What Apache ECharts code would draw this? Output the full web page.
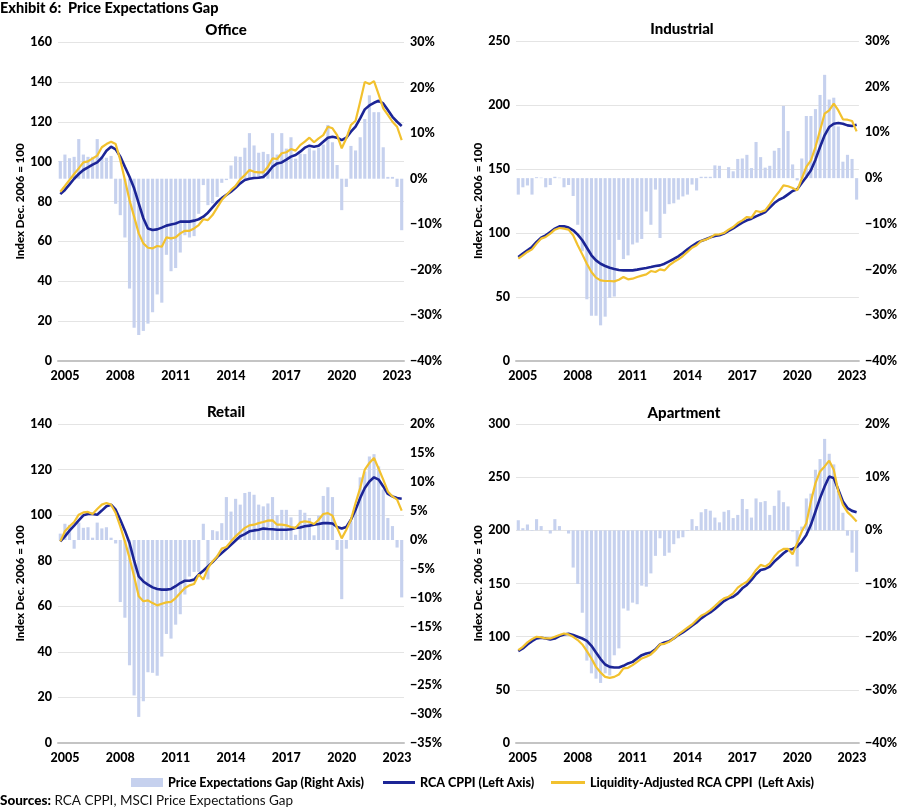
<!DOCTYPE html>
<html><head><meta charset="utf-8">
<script src="https://cdn.jsdelivr.net/npm/echarts/dist/echarts.min.js"></script>
<style>html,body{margin:0;padding:0;background:#fff}#c{width:900px;height:809px}</style>
</head><body><div id="c"></div>
<script>
// ---------- DATA (quarterly, 2004 Q4 .. 2023 Q2) ----------
const yearTicks = ['2005','2008','2011','2014','2017','2020','2023'];
const quarters = [];
for (let y = 2004; y <= 2023; y++) for (let q = 1; q <= 4; q++) {
  if ((y === 2004 && q < 4) || (y === 2023 && q > 2)) continue;
  quarters.push(y + ' Q' + q);
}

const officeGap = [3.9,5.3,4.5,4.8,8.7,5.3,4.8,4.8,8.7,4.8,4.6,5.0,
  -5.5,-8.0,-12.9,-24.1,-32.7,-34.3,-33.4,-31.8,-29.3,-25.4,-27.2,
  -16.7,-20.3,-19.6,-16.2,-12.4,-12.9,-12.6,-7.7,-1.4,-5.8,-5.4,-4.0,-0.9,-0.3,
  2.9,4.9,4.8,6.8,10.0,7.3,5.7,5.9,5.4,10.0,5.3,10.0,6.6,9.1,4.4,5.5,5.4,6.7,
  6.2,6.8,7.5,11.8,8.0,3.0,
  -6.9,-1.8,7.2,6.2,9.1,13.1,18.3,14.6,14.6,6.9,0.4,0.4,-1.8,-11.3];
const officeCPPI = [83.7,85.8,88.6,91.4,93.8,95.8,97.1,98.5,99.6,102,105.5,107.5,
  106.2,102.5,97.4,92.4,86.6,79.1,71.6,66.5,65.7,66,66.9,
  67.9,68.5,69,69.9,69.9,69.9,70.4,71.1,72.4,74.4,77.1,79.7,81.7,83.3,
  84.9,86.9,89.1,90.8,91.4,91.8,91.9,92.3,94.4,97.4,99.1,99.6,101,102.5,103.3,105,107,108,
  107.5,108,110,112,112.5,112,
  110.8,112,115,117.5,121.7,126.2,128.2,129.5,130.5,129.2,125.9,122.5,120,117.9];
const officeLiq = [84.9,87.8,90.8,93.8,96.6,99.6,100.1,101.6,103,107.2,108.8,110,
  108.8,100.8,90.8,80.7,72.4,64,59,56.8,56.5,57.7,57.3,
  62,61.5,62,64,65.3,65.3,66.5,68.2,71.1,70.7,73.2,76.9,80.7,83.3,
  85.8,87.8,91.1,93.3,95.8,94.9,94.6,94.6,97.4,101.6,101.3,104.2,104.7,106.3,105.5,108.3,110,112,
  109.7,111.7,113.3,117.5,116.7,113.3,
  106.7,111.7,118.4,120.5,130,140,138.9,140.4,133.7,126.7,123.4,120,117.5,110.8];

const industrialGap = [-3.6,-2.0,-1.6,-3.6,0.2,0.1,-2.0,-1.5,0.3,0.1,-2.0,-1.5,
  -3.9,-10.2,-16.0,-26.5,-30.1,-30.1,-32.2,-30.3,-26.2,-25.9,-13.5,
  -17.7,-16.9,-14.5,-14.1,-13.3,-7.3,-10.2,-2.5,-13.1,-7.8,-5.7,-5.5,-4.7,-4.0,
  -3.6,-1.4,-2.7,0.3,0.3,0.3,2.8,2.7,0,2.4,1.5,4.2,4.3,5.1,2.2,7.9,4.6,2.3,
  2.7,6.0,6.6,15.8,10.3,3.0,
  -0.5,4.3,13.6,13.6,15.1,18.2,22.6,17.2,17.6,11.3,3.6,5.1,4.2,-4.7];
const industrialCPPI = [81.3,83.9,86.5,89.1,93,96.4,98.2,100.8,103.4,105.2,105.2,104.2,
  102.1,98.7,94.3,88.5,82.6,78.6,76,74.2,72.9,71.9,71.1,
  70.8,70.8,70.8,71.4,72.1,72.7,73.4,74.2,74.7,76,77.9,79.7,81.8,84.4,
  87.2,89.8,92.2,93.8,95.1,96.6,97.7,98.2,99.5,101.6,103.6,106,108.1,109.9,111.2,113,114.6,116.4,
  119.8,123.4,126,127.6,130.2,132.8,
  134.1,139.1,143.8,149,157.3,167.2,176.3,182.8,185.4,185.9,185.4,184.1,183.6,184.6];
const industrialLiq = [79.9,82.6,85.2,87.2,91.7,95.6,96.9,99.5,102.6,103.9,103.4,102.6,
  98.2,90.4,83.3,76,69.5,65.1,63,62.5,62.5,62.2,63.5,
  65.6,63.8,64.3,65.6,66.7,67.7,70.3,69.5,71.6,70.8,74.7,77.3,79.4,82,
  85.2,88.5,90.4,93.8,94.8,96.4,98.7,99,100,102.6,104.7,107.8,109.9,112.5,112,117.2,116.4,117.7,
  122.4,127.6,132,137.2,136.5,135.2,
  133.3,142.4,151.6,156.8,167.2,180.2,193.2,195.8,201,195.8,188.8,188.5,187.5,179.4];

const retailGap = [1.1,2.8,2.6,-1.5,3.0,2.1,2.2,0.4,3.0,2.0,2.2,0.4,
  -0.6,-10.7,-13.4,-21.6,-26.8,-30.5,-27.8,-22.8,-22.9,-23.4,-20.1,
  -16.2,-17.0,-14.6,-12.8,-9.4,-6.3,-5.5,-5.5,2.8,-6.8,1.7,1.5,2.9,7.4,
  4.9,7.1,6.1,8.1,8.3,7.8,6.1,5.8,6.3,7.4,4.3,5.2,5.2,3.9,0.9,5.2,4.7,3.8,
  0.8,4.2,7.6,9.1,7.4,-1.7,
  -10.2,-1.5,3.2,5.4,10.8,11.8,14.4,14.8,12.7,8.7,3.8,2.4,-1.3,-9.9];
const retailCPPI = [88.5,90.7,93.2,95.4,97.7,99.9,100.5,100.5,100.2,102,103.9,104.6,
  102.4,98,93.2,87.8,80,73.1,70.9,69.5,68.3,67.6,67.3,
  67.3,67.6,68.8,70.2,71.2,71.2,71.7,73.9,75.6,77.5,79.4,81.6,83.4,85.1,
  87,88.9,90.7,91.7,92.9,93.3,93.6,94.1,93.9,93.8,93.6,93.6,93.6,93.8,94.4,94.6,95.1,95.4,
  95.8,96.1,96.5,96.5,96.3,94.8,
  94.1,94.8,98,102.4,107.5,111.9,114.8,116.6,115.6,112.6,109.3,108.2,107.5,107.2];
const retailLiq = [88.5,92.9,95.1,97,100.2,101.2,101.4,100.5,102.7,104.6,105.3,104.6,
  100.9,95.1,88.5,81.2,73.1,64.4,62.2,62.6,61.4,60.4,61.1,
  61.7,61.9,63.6,65.8,68,69.2,69.8,73.9,71.7,76.8,79.7,81.9,85.3,86,
  88.5,90.7,92.6,94.4,95.5,95.8,96.5,97,97.6,97.7,95.8,95.8,95.5,94.8,94.4,96.8,97.3,97,
  96.1,98,100.5,100.9,99.8,94.4,
  89.8,93.6,98,105.3,111.9,120,122.9,125.1,120.4,115.6,110.4,108.2,106.8,102];

const apartmentGap = [1.9,0.4,1.1,-0.1,2.1,0.8,0,-0.6,2.1,0.8,0,-0.6,
  -7.0,-10.1,-15.5,-24.5,-26.9,-27.9,-28.7,-26.9,-27.3,-23.5,-22.2,
  -14.7,-15.1,-13.6,-13.9,-10.4,-10.6,-8.1,-4.8,-1.5,-4.8,-4.2,-2.6,-1.5,-1.3,
  -0.1,2.1,0.8,3.4,4.0,3.7,2.4,1.5,3.5,3.8,2.3,2.9,5.9,4.0,2.4,6.0,5.3,5.5,
  2.9,4.6,7.5,5.3,4.5,-0.2,
  -6.8,0.7,6.0,6.9,11.4,13.4,17.2,14.4,12.4,7.5,3.3,-1.0,-4.2,-7.8];
const apartmentCPPI = [86.4,88.9,92.7,95.8,98.3,99,98.3,97.4,98.3,100.5,102.1,102.7,
  101.5,99.9,98.3,96.1,91.4,85.1,78.9,73.8,71.6,71,71,
  72.6,74.8,76.3,79.5,82.6,84.2,85.1,88,92.7,94.6,95.8,98.3,101.5,104,
  107.1,110.3,113.4,117.2,120.3,122.8,126,129.8,133.5,136,137.6,140.7,145.5,148.6,153.3,158.7,162.7,163.7,
  165.9,170.6,174.4,178.4,181.6,182.5,
  184.7,189.4,195.7,205.2,217.7,230.3,241.3,250.7,249.1,238.1,227.1,220.9,218.3,217.1];
const apartmentLiq = [87.3,90.5,94.6,97.7,99.9,99.3,98.3,98.3,99.9,101.5,103,102.1,
  99.9,96.8,92.7,86.4,79.5,71.6,66.3,62.2,61.3,62.2,64.4,
  70.1,70.7,73.2,76.3,79.5,81.1,83.3,87.3,92.7,93.3,95.2,98.3,102.1,105.2,
  108.4,111.5,115.6,119.7,121.9,125,128.8,132.9,136,137.6,140.7,146.1,149.2,151.7,156.5,162.7,167.5,165.9,
  169,175.3,180,182.5,182.5,177.5,
  187.9,198.9,206.7,227.1,244.4,255.4,260.1,265.5,257,236.6,224,217.1,213,208.3];

const names = ['Price Expectations Gap (Right Axis)', 'RCA CPPI (Left Axis)', 'Liquidity-Adjusted RCA CPPI  (Left Axis)'];

// ---------- STYLE / LAYOUT ----------
const FONT = "Lato, 'Liberation Sans', sans-serif";
const BAR = '#c6d1ee', BLUE = '#1c2596', GOLD = '#f2c12e';
const panels = [
  {t:'Office', gap:officeGap, cppi:officeCPPI, liq:officeLiq, l:58, top:42, w:346, h:319, lmax:160, lint:20, rmin:-40, rmax:30, rint:10, tx:226, ty:30},
  {t:'Industrial', gap:industrialGap, cppi:industrialCPPI, liq:industrialLiq, l:516, top:41, w:346, h:320, lmax:250, lint:50, rmin:-40, rmax:30, rint:10, tx:682, ty:29},
  {t:'Retail', gap:retailGap, cppi:retailCPPI, liq:retailLiq, l:58, top:424, w:346, h:319, lmax:140, lint:20, rmin:-35, rmax:20, rint:5, tx:226, ty:412},
  {t:'Apartment', gap:apartmentGap, cppi:apartmentCPPI, liq:apartmentLiq, l:516, top:424, w:347, h:319, lmax:300, lint:50, rmin:-40, rmax:20, rint:10, tx:684, ty:413}
];
const pct = v => (v < 0 ? '\u2212' + Math.abs(v) : v) + '%';
const lab = {color:'#000', fontFamily:FONT, fontWeight:900, fontSize:12.5};

const grid = [], xAxis = [], yAxis = [], series = [], graphic = [];
panels.forEach((p, i) => {
  grid.push({left:p.l, top:p.top, width:p.w, height:p.h, containLabel:false});
  xAxis.push({type:'category', gridIndex:i, data:quarters, boundaryGap:true,
    axisTick:{show:false},
    axisLine:{onZero:false, lineStyle:{color:'#c4c4c4', width:2}},
    axisLabel:Object.assign({}, lab, {margin:8,
      interval:(idx) => idx % 12 === 1,
      formatter:(v) => v.slice(0,4)})});
  yAxis.push({type:'value', gridIndex:i, min:0, max:p.lmax, interval:p.lint, position:'left',
    name:'Index Dec. 2006 = 100', nameLocation:'middle', nameGap:22, nameRotate:90,
    nameTextStyle:{color:'#000', fontFamily:FONT, fontWeight:900, fontSize:11.5},
    axisLine:{show:false}, axisTick:{show:false},
    splitLine:{lineStyle:{color:'#e4e4e4', width:1}},
    axisLabel:Object.assign({}, lab, {margin:6})});
  yAxis.push({type:'value', gridIndex:i, min:p.rmin, max:p.rmax, interval:p.rint, position:'right',
    axisLine:{show:false}, axisTick:{show:false}, splitLine:{show:false},
    axisLabel:Object.assign({}, lab, {margin:6, formatter:pct})});
  series.push({name:names[0], type:'bar', xAxisIndex:i, yAxisIndex:2*i+1, data:p.gap,
    barCategoryGap:'32%', itemStyle:{color:BAR}, z:1, silent:true});
  series.push({name:names[1], type:'line', xAxisIndex:i, yAxisIndex:2*i, data:p.cppi,
    showSymbol:false, itemStyle:{color:BLUE}, lineStyle:{color:BLUE, width:2.6}, z:3, silent:true});
  series.push({name:names[2], type:'line', xAxisIndex:i, yAxisIndex:2*i, data:p.liq,
    showSymbol:false, itemStyle:{color:GOLD}, lineStyle:{color:GOLD, width:2.2}, z:4, silent:true});
  graphic.push({type:'text', x:p.tx, y:p.ty, style:{text:p.t, textAlign:'center', textVerticalAlign:'middle',
    fill:'#000', font:"900 15px " + FONT}});
});

graphic.push({type:'text', x:0, y:8, style:{text:'Exhibit 6:  Price Expectations Gap', textAlign:'left', textVerticalAlign:'middle',
  fill:'#000', font:"900 14.5px " + FONT}});
graphic.push({type:'text', x:0, y:801, style:{
  rich:{b:{fontWeight:900, fontFamily:FONT, fontSize:13.5, fill:'#000'}, n:{fontFamily:FONT, fontSize:13.5, fill:'#111'}},
  text:'{b|Sources:}{n| RCA CPPI, MSCI Price Expectations Gap}', textAlign:'left', textVerticalAlign:'middle'}});

const legTxt = {color:'#000', fontFamily:FONT, fontWeight:900, fontSize:12.5};
const legend = [
  {left:126, top:771, itemWidth:32, itemHeight:9, icon:'rect', data:[names[0]], textStyle:legTxt, selectedMode:false},
  {left:378, top:771, itemWidth:32, itemHeight:3, icon:'rect', data:[names[1]], textStyle:legTxt, selectedMode:false},
  {left:546, top:771, itemWidth:34, itemHeight:3, icon:'rect', data:[names[2]], textStyle:legTxt, selectedMode:false}
];

const chart = echarts.init(document.getElementById('c'), null, {renderer:'canvas'});
chart.setOption({backgroundColor:'#fff', animation:false, grid, xAxis, yAxis, series, legend, graphic});
</script></body></html>
